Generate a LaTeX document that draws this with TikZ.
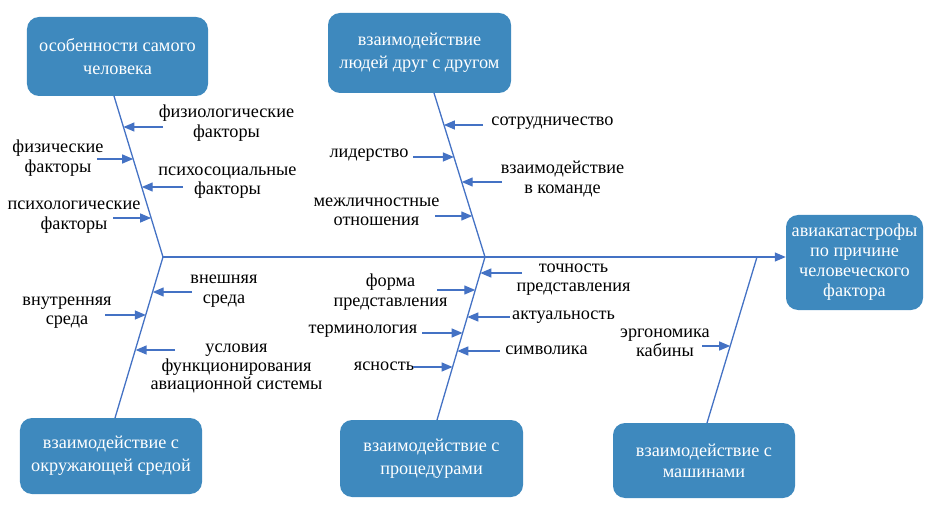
\documentclass[tikz,border=0pt]{standalone}
\usepackage{fontspec}
\setmainfont{LiberationSerif}[Extension=.ttf, UprightFont=*-Regular, BoldFont=*-Bold]
\usetikzlibrary{arrows.meta}
\definecolor{boxblue}{RGB}{62,137,190}
\definecolor{lineblue}{RGB}{68,114,196}
\begin{document}
\begin{tikzpicture}[x=1bp,y=-1bp,
  box/.style={fill=boxblue, rounded corners=12bp, text=white, align=center, inner sep=0pt,
    font=\fontsize{18.3}{23}\selectfont},
  lbl/.style={align=center, inner sep=0pt, font=\fontsize{18.3}{19.5}\selectfont},
  bone/.style={draw=lineblue, line width=1.3bp},
  sub/.style={draw=lineblue, line width=1.3bp, -{Triangle[length=11bp,width=9bp]}}]
\useasboundingbox (0,0) rectangle (930,513);
% boxes
\node[box, minimum width=181bp, minimum height=79bp] (b1) at (117.5,56.5) {особенности самого\\человека};
\node[box, minimum width=183bp, minimum height=80bp] (b2) at (419.5,53) {взаимодействие\\людей друг с другом};
\node[box, minimum width=137bp, minimum height=95bp, font=\fontsize{18.3}{20}\selectfont] (b3) at (854.5,262.5) {авиакатастрофы\\по причине\\человеческого\\фактора};
\node[box, minimum width=182bp, minimum height=76bp] (b4) at (111,456) {взаимодействие с\\окружающей средой};
\node[box, minimum width=183bp, minimum height=77bp] (b5) at (431.5,458.5) {взаимодействие с\\процедурами};
\node[box, minimum width=182bp, minimum height=75bp, font=\fontsize{18.3}{21}\selectfont] (b6) at (704,460.5) {взаимодействие с\\машинами};
% bone end points
\coordinate (t1) at (114,96);
\coordinate (t2) at (434,93);
\coordinate (j1) at (163,257);
\coordinate (j2) at (485,257);
\coordinate (j3) at (757,257);
\coordinate (e1) at (115,418);
\coordinate (e2) at (437,420);
\coordinate (e3) at (707,423);
% spine and bones
\draw[sub] (j1) -- (b3.west |- j1);
\draw[bone] (t1) -- (j1) -- (e1);
\draw[bone] (t2) -- (j2) -- (e2);
\draw[bone] (j3) -- (e3);
% labels
\node[lbl] (l1) at (226.5,123) {физиологические\\факторы};
\node[lbl] (l2) at (58,158) {физические\\факторы};
\node[lbl] (l3) at (227.5,182.5) {психосоциальные\\факторы};
\node[lbl] (l4) at (74,217) {психологические\\факторы};
\node[lbl] (l5) at (552.5,123) {сотрудничество};
\node[lbl] (l6) at (369,155) {лидерство};
\node[lbl] (l7) at (562.5,179) {взаимодействие\\в команде};
\node[lbl] (l8) at (376.5,212) {межличностные\\отношения};
\node[lbl] (l9) at (224,291) {внешняя\\среда};
\node[lbl] (l10) at (67,312.5) {внутренняя\\среда};
\node[lbl, font=\fontsize{18.3}{18.5}\selectfont] (l11) at (236.5,368.5) {условия\\функционирования\\авиационной системы};
\node[lbl] (l12) at (573.5,279.5) {точность\\представления};
\node[lbl] (l13) at (390.5,292) {форма\\представления};
\node[lbl] (l14) at (563.5,317) {актуальность};
\node[lbl] (l15) at (363,331) {терминология};
\node[lbl] (l16) at (546.5,350) {символика};
\node[lbl] (l17) at (384,366) {ясность};
\node[lbl] (l18) at (665,343) {эргономика\\кабины};
% sub arrows: tail coordinates
\coordinate (a1) at (163,127);   \coordinate (p1) at (123.4,127);
\coordinate (a2) at (97,159);    \coordinate (p2) at (133.2,159);
\coordinate (a3) at (183,187);   \coordinate (p3) at (141.7,187);
\coordinate (a4) at (113,218);   \coordinate (p4) at (151.1,218);
\coordinate (a5) at (483,125);   \coordinate (p5) at (443.9,125);
\coordinate (a6) at (413,157);   \coordinate (p6) at (453.9,157);
\coordinate (a7) at (502,182);   \coordinate (p7) at (461.7,182);
\coordinate (a8) at (435,216);   \coordinate (p8) at (472.3,216);
\coordinate (a9) at (192,292);   \coordinate (p9) at (152.7,292);
\coordinate (a10) at (105,315);  \coordinate (p10) at (145.9,315);
\coordinate (a11) at (175,350);  \coordinate (p11) at (135.6,350);
\coordinate (a12) at (522,273);  \coordinate (p12) at (480.3,273);
\coordinate (a13) at (437,290);  \coordinate (p13) at (475.3,290);
\coordinate (a14) at (510,317);  \coordinate (p14) at (467.3,317);
\coordinate (a15) at (422,333);  \coordinate (p15) at (462.6,333);
\coordinate (a16) at (500,351);  \coordinate (p16) at (457.3,351);
\coordinate (a17) at (413,367);  \coordinate (p17) at (452.6,367);
\coordinate (a18) at (702,346);  \coordinate (p18) at (730.2,346);
\foreach \i in {1,...,18} { \draw[sub] (a\i) -- (p\i); }
\end{tikzpicture}
\end{document}
